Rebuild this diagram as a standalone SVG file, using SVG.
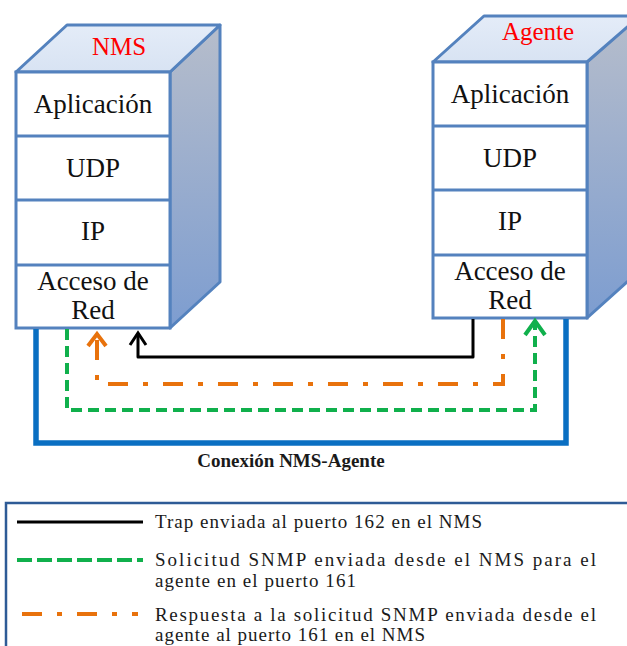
<svg xmlns="http://www.w3.org/2000/svg" width="627" height="646" viewBox="0 0 627 646">
  <style>
    text { font-family: "Liberation Serif", "DejaVu Serif", serif; }
    .face { fill: #ffffff; stroke: #5482be; stroke-width: 3; }
    .top { fill: url(#topFill); stroke: #5482be; stroke-width: 3; stroke-linejoin: round; }
    .side { fill: url(#sideFill); stroke: #5482be; stroke-width: 3; stroke-linejoin: round; }
    .sep { stroke: #5482be; stroke-width: 3; }
    .layer { font-size: 27px; fill: #111111; text-anchor: middle; }
    .title { font-size: 25px; fill: #ff0000; text-anchor: middle; }
    .legend { font-size: 19px; fill: #1a1a1a; }
    .caption { font-size: 19px; font-weight: bold; fill: #1a1a1a; text-anchor: middle; }
    .blue { fill: none; stroke: #0a6fc2; stroke-width: 5.5; stroke-linejoin: miter; }
    .trap { fill: none; stroke: #000000; stroke-width: 3; stroke-linejoin: round; }
    .req { fill: none; stroke: #10b04c; stroke-width: 4; stroke-dasharray: 11 6; }
    .resp { fill: none; stroke: #e8720c; stroke-width: 4; stroke-dasharray: 20 15 5 15; }
  </style>
  <defs>
    <linearGradient id="topFill" x1="0" y1="0" x2="0" y2="1">
      <stop offset="0" stop-color="#e4ecf8"/>
      <stop offset="1" stop-color="#d8e3f3"/>
    </linearGradient>
    <linearGradient id="sideFill" x1="0" y1="0" x2="0" y2="1">
      <stop offset="0" stop-color="#b6bdcb"/>
      <stop offset="1" stop-color="#7d9dd0"/>
    </linearGradient>
    <marker id="arrowBlack" markerUnits="userSpaceOnUse" viewBox="-16 -12 20 24" markerWidth="20" markerHeight="24" refX="0" refY="0" orient="auto">
      <path d="M-12,-8 L0,0 L-12,8" fill="none" stroke="#000000" stroke-width="3"/>
    </marker>
    <marker id="arrowGreen" markerUnits="userSpaceOnUse" viewBox="-18 -14 22 28" markerWidth="22" markerHeight="28" refX="0" refY="0" orient="auto">
      <path d="M-14,-10 L0,0 L-14,10" fill="none" stroke="#10b04c" stroke-width="4"/>
    </marker>
    <marker id="arrowOrange" markerUnits="userSpaceOnUse" viewBox="-18 -14 22 28" markerWidth="22" markerHeight="28" refX="0" refY="0" orient="auto">
      <path d="M-12,-9 L0,0 L-12,9" fill="none" stroke="#e8720c" stroke-width="4"/>
    </marker>
  </defs>

  <rect width="627" height="646" fill="#ffffff"/>

  <!-- NMS protocol stack -->
  <g id="nms">
    <polygon class="side" points="170,72 220,25 220,282 170,328"/>
    <polygon class="top" points="16,72 67,25 220,25 170,72"/>
    <rect class="face" x="16" y="72" width="154" height="256"/>
    <line class="sep" x1="16" y1="136" x2="170" y2="136"/>
    <line class="sep" x1="16" y1="200" x2="170" y2="200"/>
    <line class="sep" x1="16" y1="265" x2="170" y2="265"/>
    <text class="title" x="119" y="55">NMS</text>
    <text class="layer" x="93" y="113">Aplicación</text>
    <text class="layer" x="93" y="177">UDP</text>
    <text class="layer" x="93" y="240">IP</text>
    <text class="layer" x="93" y="290">Acceso de</text>
    <text class="layer" x="93" y="319">Red</text>
  </g>

  <!-- Agent protocol stack -->
  <g id="agente">
    <polygon class="side" points="587,62 638,16 638,272 587,318"/>
    <polygon class="top" points="433,62 484,16 640,16 587,62"/>
    <rect class="face" x="433" y="62" width="154" height="256"/>
    <line class="sep" x1="433" y1="126" x2="587" y2="126"/>
    <line class="sep" x1="433" y1="190" x2="587" y2="190"/>
    <line class="sep" x1="433" y1="255" x2="587" y2="255"/>
    <text class="title" x="538" y="40">Agente</text>
    <text class="layer" x="510" y="103">Aplicación</text>
    <text class="layer" x="510" y="167">UDP</text>
    <text class="layer" x="510" y="230">IP</text>
    <text class="layer" x="510" y="280">Acceso de</text>
    <text class="layer" x="510" y="309">Red</text>
  </g>

  <!-- Links between the two stacks -->
  <g id="connectors">
    <path id="link" class="blue" d="M36,329 V443 H566 V319"/>
    <path id="trap" class="trap" d="M473,319 V357 H138 V333" marker-end="url(#arrowBlack)"/>
    <path id="response" class="resp" d="M503,319 V384 H97 V334" marker-end="url(#arrowOrange)"/>
    <path id="request" class="req" d="M67,329 V410 H535 V321" marker-end="url(#arrowGreen)"/>
  </g>

  <text class="caption" x="291" y="467">Conexión NMS-Agente</text>

  <!-- Legend -->
  <g id="legend">
    <rect x="6" y="503" width="640" height="160" fill="none" stroke="#2e5b96" stroke-width="2.5"/>
    <line x1="17" y1="522" x2="143" y2="522" stroke="#000000" stroke-width="3"/>
    <line x1="17" y1="560" x2="143" y2="560" stroke="#10b04c" stroke-width="4" stroke-dasharray="15 5"/>
    <line x1="22" y1="614" x2="138" y2="614" stroke="#e8720c" stroke-width="4" stroke-dasharray="20 15 5 15"/>
    <text class="legend" x="155" y="528" textLength="327" lengthAdjust="spacing">Trap enviada al puerto 162 en el NMS</text>
    <text class="legend" x="155" y="566" textLength="441" lengthAdjust="spacing">Solicitud SNMP enviada desde el NMS para el</text>
    <text class="legend" x="155" y="587" textLength="201" lengthAdjust="spacing">agente en el puerto 161</text>
    <text class="legend" x="155" y="621" textLength="441" lengthAdjust="spacing">Respuesta a la solicitud SNMP enviada desde el</text>
    <text class="legend" x="155" y="641" textLength="270" lengthAdjust="spacing">agente al puerto 161 en el NMS</text>
  </g>
</svg>
